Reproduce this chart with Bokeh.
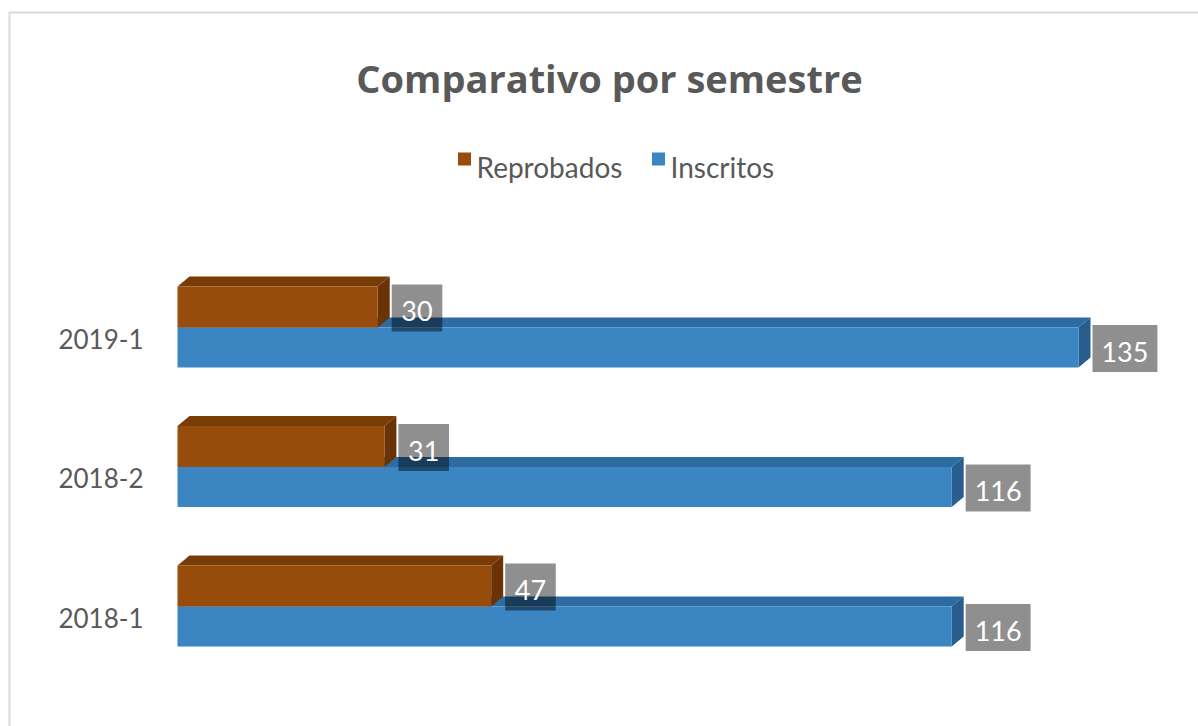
from bokeh.plotting import figure
from bokeh.models import Range1d
from bokeh.core.properties import value
from bokeh.embed import file_html
from bokeh.resources import INLINE

# ---------------- data ----------------
categories = ["2018-1", "2018-2", "2019-1"]
reprobados = [47, 31, 30]
inscritos = [116, 116, 135]
series_names = ["Reprobados", "Inscritos"]
title_text = "Comparativo por semestre"

# ---------------- layout constants ----------------
W, H = 1198, 726
X0_PX = 177                  # pixel of value 0
PX_PER_UNIT = 901 / 135      # horizontal scale
CAT_TOP_PX = 338             # pixel row of last category label centre
PX_PER_CAT = 139.5
DEPTH_X_PX, DEPTH_Y_PX = 12, 10

BROWN = dict(front="#984C0B", top="#7A3C07", side="#6A3305")
BLUE = dict(front="#3A85C2", top="#2D6CA3", side="#275E8E")
TEXT_GRAY = "#595959"
FONT = "Lato"

n = len(categories)
x_start = -X0_PX / PX_PER_UNIT
x_end = (W - X0_PX) / PX_PER_UNIT
y_end = (n - 1) + CAT_TOP_PX / PX_PER_CAT
y_start = y_end - H / PX_PER_CAT


def px_x(px):
    return x_start + px / PX_PER_UNIT


def px_y(py):
    return y_end - py / PX_PER_CAT


DX = DEPTH_X_PX / PX_PER_UNIT
DY = DEPTH_Y_PX / PX_PER_CAT

# bar bands relative to category position (in category units)
BLUE_TOP = (CAT_TOP_PX - 327) / PX_PER_CAT
BLUE_BOT = (CAT_TOP_PX - 367) / PX_PER_CAT
BROWN_TOP = (CAT_TOP_PX - 286) / PX_PER_CAT
BROWN_BOT = BLUE_TOP

p = figure(width=W, height=H, output_backend="svg", toolbar_location=None,
           x_range=Range1d(x_start, x_end), y_range=Range1d(y_start, y_end),
           x_axis_location=None, y_axis_location=None, min_border=0,
           outline_line_color=None, background_fill_color="white",
           border_fill_color="white")
p.grid.visible = False

# chart area border (top / left visible)
p.quad(left=[px_x(9)], right=[px_x(W + 20)], top=[px_y(12)], bottom=[px_y(H + 20)],
       fill_color=None, line_color="#D9D9D9", line_width=2)


def draw_bars(vals, off_bot, off_top, colors):
    fx, fy, tx, ty, sx, sy = [], [], [], [], [], []
    for i, v in enumerate(vals):
        yb, yt = i + off_bot, i + off_top
        fx.append([0, v, v, 0]); fy.append([yb, yb, yt, yt])
        tx.append([0, v, v + DX, DX]); ty.append([yt, yt, yt + DY, yt + DY])
        sx.append([v, v + DX, v + DX, v]); sy.append([yb, yb + DY, yt + DY, yt])
    p.patches(xs=tx, ys=ty, fill_color=colors["top"], line_color=None)
    p.patches(xs=sx, ys=sy, fill_color=colors["side"], line_color=None)
    p.patches(xs=fx, ys=fy, fill_color=colors["front"], line_color=None)


draw_bars(inscritos, BLUE_BOT, BLUE_TOP, BLUE)
draw_bars(reprobados, BROWN_BOT, BROWN_TOP, BROWN)

# data labels
DIGIT_PX = 14.3
BOX_H = 47
lx, ly, lw, tx_, ty_, tt = [], [], [], [], [], []
for vals, ob, ot in ((reprobados, BROWN_BOT, BROWN_TOP), (inscritos, BLUE_BOT, BLUE_TOP)):
    for i, v in enumerate(vals):
        s = str(v)
        wpx = DIGIT_PX * len(s) + 22
        cx = v + (14 + wpx / 2) / PX_PER_UNIT
        cy = i + (ob + ot) / 2 - 1 / PX_PER_CAT
        lx.append(cx); ly.append(cy); lw.append(wpx)
        tx_.append(cx); ty_.append(cy - 3 / PX_PER_CAT); tt.append(s)
p.rect(x=lx, y=ly, width=lw, height=BOX_H, width_units="screen", height_units="screen",
       fill_color="black", fill_alpha=0.44, line_color=None)
p.text(x=tx_, y=ty_, text=tt, text_font=value(FONT), text_font_size="27px",
       text_color="white", text_align="center", text_baseline="middle")

# category labels
p.text(x=[px_x(143)] * n, y=list(range(n)), text=categories,
       text_font=value(FONT), text_font_size="26px", text_color=TEXT_GRAY,
       text_align="right", text_baseline="middle")

# title
p.text(x=[px_x(609)], y=[px_y(77)], text=[title_text], text_font=value("Open Sans"),
       text_font_size="38px", text_font_style="bold", text_color=TEXT_GRAY,
       text_align="center", text_baseline="middle")

# legend
p.scatter(x=[px_x(464), px_x(658)], y=[px_y(158.5)] * 2, marker="square", size=13,
          fill_color=[BROWN["front"], BLUE["front"]], line_color=None)
p.text(x=[px_x(476), px_x(670)], y=[px_y(166)] * 2, text=series_names,
       text_font=value(FONT), text_font_size="28px", text_color=TEXT_GRAY,
       text_align="left", text_baseline="middle")

open("out.html", "w").write(file_html(p, INLINE))
